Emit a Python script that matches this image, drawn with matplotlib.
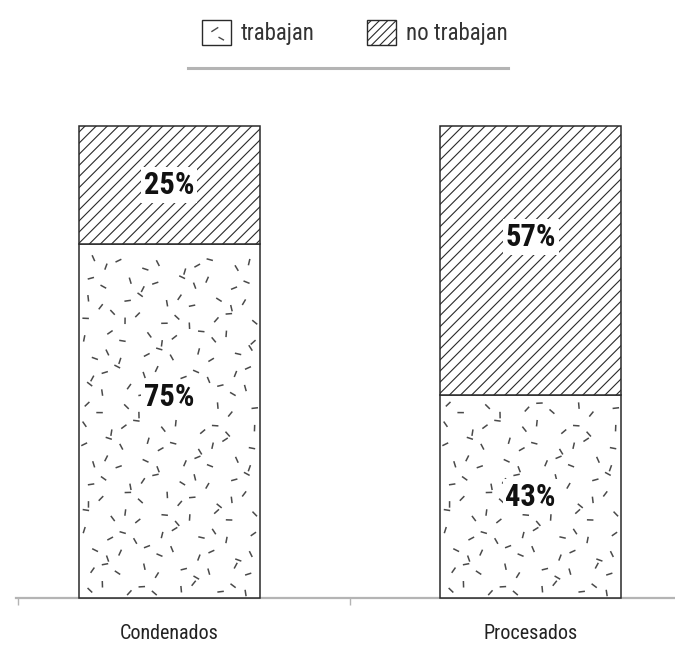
"""
Stacked bars: share of people who work / don't work, by legal status.
"""
import numpy as np
import matplotlib
matplotlib.use("Agg")
import matplotlib.pyplot as plt
from matplotlib import font_manager
from matplotlib.patches import Rectangle
from matplotlib.collections import LineCollection
from matplotlib.legend_handler import HandlerBase
from matplotlib.lines import Line2D

categories  = ["Condenados", "Procesados"]
trabajan    = [75, 43]
no_trabajan = [25, 57]
labels      = ["trabajan", "no trabajan"]

# pick a narrow face if one is installed
names = {f.name for f in font_manager.fontManager.ttflist}
narrow = [n for n in ["Liberation Sans Narrow", "Roboto Condensed",
                      "Open Sans Condensed", "DejaVu Sans"] if n in names]
plt.rcParams["font.family"] = narrow + ["DejaVu Sans"]
plt.rcParams["font.stretch"] = "condensed"
plt.rcParams["hatch.linewidth"] = 0.8

EDGE = "#2a2a2a"
GRAY = "#b4b4b4"
INK  = "#4a4a4a"

fig = plt.figure(figsize=(6.75, 6.45), dpi=100)
ax = fig.add_axes([16 / 675, 1 - 598 / 645, 1 - 16 / 675, 472 / 645])
ax.set_xlim(-0.425, 1.40)
ax.set_ylim(0, 100)

x = np.arange(len(categories))
W = 0.5
bars_low = ax.bar(x, trabajan, W, color="white", edgecolor=EDGE,
                  linewidth=1.1, clip_on=False, zorder=3)
bars_top = ax.bar(x, no_trabajan, W, bottom=trabajan, color="white",
                  edgecolor=EDGE, hatch="///", linewidth=1.1,
                  clip_on=False, zorder=3)


# ── scattered-dash texture for the "trabajan" segments ───────────────────────
def dash_texture(x0, y0, x1, y1, step=18, length=6.5, margin=5):
    """Short strokes on a jittered grid (pixel space), deterministic."""
    segs = []
    k = 0
    for gy in np.arange(y0 + step * 0.5, y1 - margin, step):
        for gx in np.arange(x0 + step * 0.5, x1 - margin, step):
            k += 1
            jx = ((k * 0.6180339) % 1 - 0.5) * step * 0.8
            jy = ((k * 0.4142136) % 1 - 0.5) * step * 0.8
            ang = ((k * 0.7548777) % 1) * np.pi
            cx = np.clip(gx + jx, x0 + margin, x1 - margin)
            cy = np.clip(gy + jy, y0 + margin, y1 - margin)
            dx, dy = np.cos(ang) * length / 2, np.sin(ang) * length / 2
            segs.append([(cx - dx, cy - dy), (cx + dx, cy + dy)])
    return segs


inv = ax.transData.inverted()
for bar in bars_low:
    bx, by = bar.get_x(), bar.get_y()
    p0 = ax.transData.transform((bx, by))
    p1 = ax.transData.transform((bx + bar.get_width(), by + bar.get_height()))
    segs_px = dash_texture(p0[0], p0[1], p1[0], p1[1])
    segs = [inv.transform(np.array(s)) for s in segs_px]
    lc = LineCollection(segs, colors=INK, linewidths=1.1, zorder=3.5)
    ax.add_collection(lc)

# percentage labels (tall segments get their label nudged up, as in the original)
for i in range(len(categories)):
    for bottom, val in [(0, trabajan[i]), (trabajan[i], no_trabajan[i])]:
        nudge = 5 if val > 50 else 0
        ax.text(x[i], bottom + val / 2 + nudge, f"{val}%", ha="center",
                va="center", fontsize=22, fontweight="bold", color="#111",
                zorder=5, bbox=dict(facecolor="white", edgecolor="none", pad=2))

# axes styling
for side in ["top", "right", "left"]:
    ax.spines[side].set_visible(False)
ax.spines["bottom"].set_color(GRAY)
ax.spines["bottom"].set_linewidth(1.6)
ax.set_yticks([])
ax.set_xticks([-0.42, 0.5])
ax.set_xticklabels(["", ""])
ax.tick_params(axis="x", which="major", length=5, width=1, color=GRAY)
ax.set_xticks(x, minor=True)
ax.set_xticklabels(categories, minor=True)
ax.tick_params(axis="x", which="minor", length=0, pad=19,
               labelsize=14.5, labelcolor="#222")


# ── legend ───────────────────────────────────────────────────────────────────
class DashBoxHandler(HandlerBase):
    def create_artists(self, legend, orig, xd, yd, w, h, fs, trans):
        box = Rectangle((-xd, -yd), w, h, facecolor="white", edgecolor=EDGE,
                        linewidth=1.0, transform=trans)
        l1 = Line2D([-xd + w * 0.35, -xd + w * 0.55], [-yd + h * 0.55, -yd + h * 0.7],
                    color=INK, linewidth=1.0, transform=trans)
        l2 = Line2D([-xd + w * 0.6, -xd + w * 0.75], [-yd + h * 0.3, -yd + h * 0.2],
                    color=INK, linewidth=1.0, transform=trans)
        return [box, l1, l2]


h_trab = Rectangle((0, 0), 1, 1, facecolor="white", edgecolor=EDGE)
h_no = Rectangle((0, 0), 1, 1, facecolor="white", edgecolor=EDGE, hatch="////",
                 linewidth=1.0)
fig.legend([h_trab, h_no], labels, loc="center", bbox_to_anchor=(0.526, 0.949),
           ncol=2, frameon=False, fontsize=16.5, handlelength=1.25,
           handleheight=1.25, columnspacing=2.3, handletextpad=0.45,
           handler_map={h_trab: DashBoxHandler()}, labelcolor="#333")

fig.add_artist(Line2D([188 / 675, 508 / 675], [1 - 68 / 645, 1 - 68 / 645],
                      color=GRAY, linewidth=2.2, transform=fig.transFigure))

fig.savefig("out.png", dpi=100)
